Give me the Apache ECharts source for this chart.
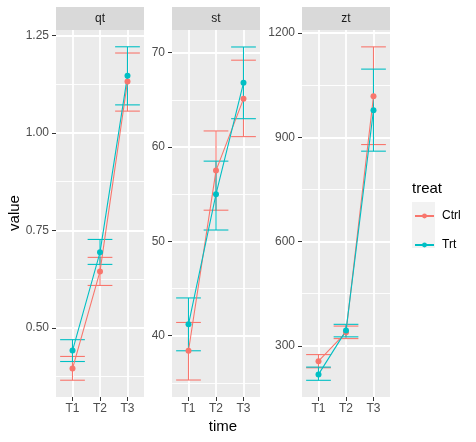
<!DOCTYPE html>
<html>
<head>
<meta charset="utf-8">
<script src="https://cdn.jsdelivr.net/npm/echarts@6/dist/echarts.min.js"></script>
<style>
html, body { margin: 0; padding: 0; background: #fff; }
#chart { width: 476px; height: 442px; }
</style>
</head>
<body>
<div id="chart"></div>
<script>
var facets = ['qt', 'st', 'zt'];
var times = ['T1', 'T2', 'T3'];
var treats = ['Ctrl', 'Trt'];
var colors = ['#F8766D', '#00BFC4'];

// mean / lower / upper for T1..T3
var qtCtrlMean = [0.396, 0.645, 1.132];
var qtCtrlLow = [0.366, 0.609, 1.056];
var qtCtrlHigh = [0.427, 0.681, 1.205];
var qtTrtMean = [0.442, 0.694, 1.147];
var qtTrtLow = [0.414, 0.663, 1.072];
var qtTrtHigh = [0.470, 0.727, 1.221];

var stCtrlMean = [38.4, 57.5, 65.1];
var stCtrlLow = [35.3, 53.3, 61.1];
var stCtrlHigh = [41.4, 61.7, 69.2];
var stTrtMean = [41.2, 55.0, 66.8];
var stTrtLow = [38.4, 51.2, 63.0];
var stTrtHigh = [44.0, 58.5, 70.6];

var ztCtrlMean = [256, 339, 1018];
var ztCtrlLow = [237, 321, 879];
var ztCtrlHigh = [275, 357, 1160];
var ztTrtMean = [218, 344, 978];
var ztTrtLow = [201, 326, 860];
var ztTrtHigh = [239, 362, 1096];

// axis ticks
var qtTicks = [0.50, 0.75, 1.00, 1.25];
var stTicks = [40, 50, 60, 70];
var ztTicks = [300, 600, 900, 1200];
var qtMinor = [0.375, 0.625, 0.875, 1.125];
var stMinor = [35, 45, 55, 65];
var ztMinor = [450, 750, 1050];
var qtRange = [0.323, 1.264];
var stRange = [33.5, 72.4];
var ztRange = [153, 1208.5];

var panels = [
    {ctrl: [qtCtrlMean, qtCtrlLow, qtCtrlHigh], trt: [qtTrtMean, qtTrtLow, qtTrtHigh], ticks: qtTicks, minor: qtMinor, range: qtRange, digits: 2},
    {ctrl: [stCtrlMean, stCtrlLow, stCtrlHigh], trt: [stTrtMean, stTrtLow, stTrtHigh], ticks: stTicks, minor: stMinor, range: stRange, digits: 0},
    {ctrl: [ztCtrlMean, ztCtrlLow, ztCtrlHigh], trt: [ztTrtMean, ztTrtLow, ztTrtHigh], ticks: ztTicks, minor: ztMinor, range: ztRange, digits: 0}
];

var font = 'Liberation Sans, Arial, sans-serif';
var lefts = [56, 172, 302];
var panelW = 88, panelTop = 30, panelH = 367;

function renderErr(params, api) {
    var x = api.value(0), lo = api.value(1), hi = api.value(2);
    var pLo = api.coord([x, lo]);
    var pHi = api.coord([x, hi]);
    var l = api.coord([x - 0.45, lo])[0];
    var r = api.coord([x + 0.45, lo])[0];
    var style = {stroke: api.visual('color'), lineWidth: 1.1, fill: null};
    return {
        type: 'group',
        children: [
            {type: 'line', shape: {x1: pLo[0], y1: pLo[1], x2: pHi[0], y2: pHi[1]}, style: style},
            {type: 'line', shape: {x1: l, y1: pLo[1], x2: r, y2: pLo[1]}, style: style},
            {type: 'line', shape: {x1: l, y1: pHi[1], x2: r, y2: pHi[1]}, style: style}
        ]
    };
}

var grids = [], xAxes = [], yAxes = [], series = [], graphics = [];

for (var i = 0; i < panels.length; i++) {
    var p = panels[i];
    grids.push({left: lefts[i], top: panelTop, width: panelW, height: panelH, show: true, backgroundColor: '#EBEBEB', borderWidth: 0});
    xAxes.push({
        gridIndex: i, type: 'value', min: 0.4, max: 3.6,
        axisLine: {show: false},
        axisTick: {show: true, length: 4, lineStyle: {color: '#333333', width: 1}, customValues: [1, 2, 3]},
        axisLabel: {customValues: [1, 2, 3], margin: 6, color: '#4D4D4D', fontSize: 12, fontFamily: font,
            formatter: function (v) { return times[Math.round(v) - 1]; }},
        splitLine: {show: true, lineStyle: {color: '#FFFFFF', width: 1.8}}
    });
    // minor grid lines
    yAxes.push({
        gridIndex: i, type: 'value', min: p.range[0], max: p.range[1], position: 'left',
        axisLine: {show: false}, axisLabel: {show: false},
        axisTick: {show: false, customValues: p.minor},
        splitLine: {show: true, lineStyle: {color: '#FFFFFF', width: 0.9}}
    });
    // major axis
    (function (digits) {
        yAxes.push({
            gridIndex: i, type: 'value', min: p.range[0], max: p.range[1], position: 'left',
            axisLine: {show: false},
            axisTick: {show: true, length: 4, lineStyle: {color: '#333333', width: 1}, customValues: p.ticks},
            axisLabel: {customValues: p.ticks, margin: 7, color: '#4D4D4D', fontSize: 12, fontFamily: font,
                formatter: function (v) { return v.toFixed(digits); }},
            splitLine: {show: true, lineStyle: {color: '#FFFFFF', width: 1.8}}
        });
    })(p.digits);

    var groups = [p.ctrl, p.trt];
    for (var g = 0; g < 2; g++) {
        var arr = groups[g];
        series.push({
            type: 'custom', name: treats[g] + ' err', xAxisIndex: i, yAxisIndex: 2 * i + 1,
            renderItem: renderErr, itemStyle: {color: colors[g]}, clip: false,
            data: times.map(function (t, j) { return [j + 1, arr[1][j], arr[2][j]]; })
        });
    }
    for (var g = 0; g < 2; g++) {
        var arr = groups[g];
        series.push({
            type: 'line', name: treats[g], xAxisIndex: i, yAxisIndex: 2 * i + 1,
            symbol: 'circle', symbolSize: 6,
            itemStyle: {color: colors[g]}, lineStyle: {color: colors[g], width: 1.1},
            data: times.map(function (t, j) { return [j + 1, arr[0][j]]; })
        });
    }

    // strip
    graphics.push({type: 'rect', left: lefts[i], top: 7, shape: {width: panelW, height: 23}, style: {fill: '#D9D9D9'}});
    graphics.push({type: 'text', x: lefts[i] + panelW / 2, y: 18.5,
        style: {text: facets[i], fill: '#1A1A1A', font: '12px ' + font, textAlign: 'center', textVerticalAlign: 'middle'}});
}

// axis titles
graphics.push({type: 'text', x: 223, y: 427,
    style: {text: 'time', fill: '#000', font: '15px ' + font, textAlign: 'center', textVerticalAlign: 'middle'}});
graphics.push({type: 'text', x: 15, y: 213, rotation: Math.PI / 2,
    style: {text: 'value', fill: '#000', font: '15px ' + font, textAlign: 'center', textVerticalAlign: 'middle'}});

// legend
graphics.push({type: 'text', x: 412, y: 189,
    style: {text: 'treat', fill: '#000', font: '15px ' + font, textAlign: 'left', textVerticalAlign: 'middle'}});
graphics.push({type: 'rect', left: 412, top: 202, shape: {width: 23, height: 46}, style: {fill: '#F2F2F2'}});

var myChart = echarts.init(document.getElementById('chart'));
myChart.setOption({
    animation: false,
    backgroundColor: '#FFFFFF',
    grid: grids,
    xAxis: xAxes,
    yAxis: yAxes,
    series: series,
    graphic: {elements: graphics},
    legend: {
        data: treats, orient: 'vertical', left: 414, top: 210, padding: 0,
        itemWidth: 19, itemHeight: 6, itemGap: 17,
        textStyle: {color: '#000', fontSize: 12, fontFamily: font, padding: [0, 0, 0, 3]}
    }
});
</script>
</body>
</html>
